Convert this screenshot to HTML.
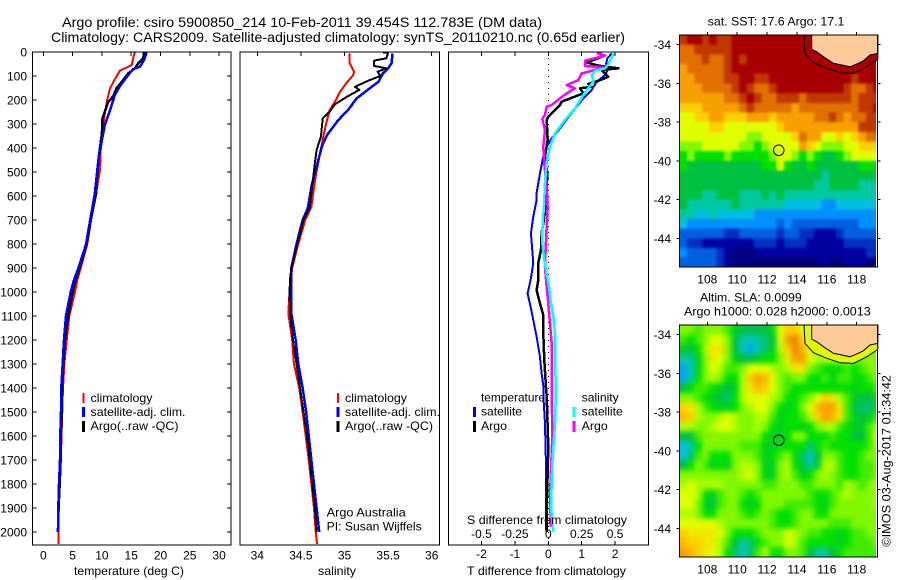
<!DOCTYPE html>
<html lang="en">
<head>
<meta charset="utf-8">
<title>Argo profile csiro 5900850_214</title>
<style>
html,body{margin:0;padding:0;background:#fff;width:900px;height:580px;overflow:hidden}
svg{display:block}
text{font-family:"Liberation Sans",Arial,sans-serif;font-size:12px;fill:#000}
.t{font-size:14px}
</style>
</head>
<body>
<svg id="chart" xmlns="http://www.w3.org/2000/svg" width="900" height="580" viewBox="0 0 900 580">
<defs>
<filter id="blurSst" x="-5%" y="-5%" width="110%" height="110%" color-interpolation-filters="sRGB"><feGaussianBlur stdDeviation="1.4"/></filter>
<filter id="blurSla" x="-5%" y="-5%" width="110%" height="110%" color-interpolation-filters="sRGB"><feGaussianBlur stdDeviation="2.6"/></filter>
<clipPath id="clipSst"><rect x="679.5" y="35" width="196.5" height="232"/></clipPath>
<clipPath id="clipSla"><rect x="679.5" y="325" width="196.5" height="232"/></clipPath>
</defs>
<rect x="0" y="0" width="900" height="580" fill="#fff"/>
<text class="t" x="62" y="27" textLength="480" lengthAdjust="spacingAndGlyphs">Argo profile: csiro 5900850_214 10-Feb-2011 39.454S 112.783E (DM data)</text>
<text class="t" x="51" y="42" textLength="574" lengthAdjust="spacingAndGlyphs">Climatology: CARS2009. Satellite-adjusted climatology: synTS_20110210.nc (0.65d earlier)</text>

<g id="marks"></g>

<g>
<text x="74" y="575" textLength="110" lengthAdjust="spacingAndGlyphs">temperature (deg C)</text>
<g>
<rect x="82.5" y="393" width="2" height="10" fill="#f00"/>
<rect x="82" y="407" width="3" height="10" fill="#00f"/>
<rect x="82" y="421" width="3" height="11" fill="#000"/>
<text x="90.5" y="402" textLength="62" lengthAdjust="spacingAndGlyphs">climatology</text>
<text x="90.5" y="416" textLength="95" lengthAdjust="spacingAndGlyphs">satellite-adj. clim.</text>
<text x="90.5" y="430" textLength="88" lengthAdjust="spacingAndGlyphs">Argo(..raw -QC)</text>
</g>
</g>

<g>
<text x="318" y="575" textLength="38" lengthAdjust="spacingAndGlyphs">salinity</text>
<g>
<rect x="337" y="393" width="2" height="10" fill="#f00"/>
<rect x="336.5" y="407" width="3" height="10" fill="#00f"/>
<rect x="336.5" y="421" width="3" height="11" fill="#000"/>
<text x="345" y="402" textLength="62" lengthAdjust="spacingAndGlyphs">climatology</text>
<text x="345" y="416" textLength="95" lengthAdjust="spacingAndGlyphs">satellite-adj. clim.</text>
<text x="345" y="430" textLength="88" lengthAdjust="spacingAndGlyphs">Argo(..raw -QC)</text>
</g>
<text x="326.7" y="516.5" textLength="79" lengthAdjust="spacingAndGlyphs">Argo Australia</text>
<text x="326.7" y="530.5" textLength="95" lengthAdjust="spacingAndGlyphs">PI: Susan Wijffels</text>
</g>

<g>
<g>
<text x="481" y="401.5" textLength="64" lengthAdjust="spacingAndGlyphs">temperature</text>
<text x="481" y="415.5" textLength="41" lengthAdjust="spacingAndGlyphs">satellite</text>
<text x="481" y="430" textLength="26" lengthAdjust="spacingAndGlyphs">Argo</text>
<text x="581.7" y="401.5" textLength="37" lengthAdjust="spacingAndGlyphs">salinity</text>
<text x="581.7" y="415.5" textLength="41" lengthAdjust="spacingAndGlyphs">satellite</text>
<text x="581.7" y="430" textLength="26" lengthAdjust="spacingAndGlyphs">Argo</text>
<rect x="473" y="407" width="3" height="10" fill="#00f"/>
<rect x="473" y="421" width="3" height="11" fill="#000"/>
<rect x="572.5" y="407" width="3" height="10" fill="#0ff"/>
<rect x="572.5" y="421" width="3" height="11" fill="#f0f"/>
</g>
<text x="467" y="524" textLength="160" lengthAdjust="spacingAndGlyphs">S difference from climatology</text>
<text x="467" y="575" textLength="159" lengthAdjust="spacingAndGlyphs">T difference from climatology</text>
</g>

<g>
<text x="707.7" y="25.5" textLength="136.7" lengthAdjust="spacingAndGlyphs">sat. SST: 17.6 Argo: 17.1</text>
<text x="700" y="301.5" textLength="101.7" lengthAdjust="spacingAndGlyphs">Altim. SLA: 0.0099</text>
<text x="684" y="315.5" textLength="186.7" lengthAdjust="spacingAndGlyphs">Argo h1000: 0.028 h2000: 0.0013</text>
<text transform="translate(890.7,546.7) rotate(-90)" textLength="171.7" lengthAdjust="spacingAndGlyphs">©IMOS 03-Aug-2017 01:34:42</text>
</g>
</svg>

<script>
// ---- profile data: temperature (deg C) vs depth (m)
const depthTicks = [0,100,200,300,400,500,600,700,800,900,1000,1100,1200,1300,1400,1500,1600,1700,1800,1900,2000];
const tempTicks = [0,5,10,15,20,25,30];
const salTicks = [34,34.5,35,35.5,36];
const salTickLabels = ['34','34.5','35','35.5','36'];
const tDiffTicks = [-2,-1,0,1,2];
const tDiffLabels = ['-2','-1','0','1','2'];
const sDiffTicks = [-0.5,-0.25,0,0.25,0.5];
const sDiffLabels = ['-0.5','-0.25','0','0.25','0.5'];
const lonTicks = [108,110,112,114,116,118];
const latTicks = [-34,-36,-38,-40,-42,-44];

const tClimDepth = [0,19,54,65,77,114,151,199,255,300,353,408,492,617,700,800,900,950,1000,1100,1200,1300,1400,1500,1600,1700,1800,1900,2000,2050];
const tClim = [15.65,15.4,15.1,14.2,13.1,12.2,11.4,10.9,10.5,10.25,10,9.8,9.67,8.8,8.15,7.5,6.4,5.8,5.4,4.44,4.0,3.59,3.36,3.24,3.1,3.0,2.8,2.65,2.56,2.56];
const tSatDepth = [0,33,61,72,105,141,179,242,304,367,450,589,700,800,900,950,1000,1100,1200,1300,1400,1500,1600,1700,1800,1900,2000];
const tSat = [17.64,17.2,16.5,15.3,14.2,13.1,12.2,11.4,10.5,10,9.4,8.8,8.0,7.3,6.0,5.24,4.67,3.87,3.53,3.3,3.07,3.02,2.9,2.85,2.68,2.56,2.5];
const tArgoDepth = [0,26,47,68,89,124,151,186,207,248,277,340,450,590,700,800,900,950,1000,1100,1200,1300,1400,1500,1600,1700,1800,1900,2000];
const tArgo = [17.2,17.07,16.2,15.65,14.5,13.4,12.5,11.9,11.1,10.5,10.1,10,9.4,9,8.1,7.4,6.2,5.5,5.0,4.27,3.7,3.4,3.2,3.16,3,2.95,2.8,2.6,2.5];

// ---- salinity vs depth
const sClimDepth = [6,47,82,96,130,165,207,242,297,346,422,478,540,645,700,800,900,1000,1089,1200,1300,1400,1500,1600,1700,1800,1900,2000,2050];
const sClim = [35.06,35.06,35.11,35.1,35.02,34.95,34.89,34.83,34.79,34.76,34.72,34.69,34.66,34.62,34.55,34.47,34.4,34.37,34.355,34.4,34.42,34.48,34.52,34.555,34.59,34.62,34.65,34.67,34.685];
const sSatDepth = [6,47,68,89,124,151,193,242,283,346,394,464,561,650,700,800,900,950,1000,1089,1200,1300,1400,1500,1600,1700,1800,1900,2000];
const sSat = [35.55,35.54,35.5,35.44,35.39,35.29,35.14,35.04,34.93,34.8,34.74,34.69,34.62,34.58,34.52,34.45,34.39,34.39,34.39,34.39,34.44,34.47,34.52,34.56,34.59,34.62,34.65,34.68,34.71];
const sArgoDepth = [3,3,26,36,58,68,82,100,120,145,158,186,218,249,276,353,408,464,588,650,700,800,900,950,1000,1089,1200,1300,1400,1500,1600,1700,1800,1900,2000];
const sArgo = [35.44,35.5,35.48,35.34,35.34,35.48,35.38,35.41,35.27,35.12,35.17,35.03,34.89,34.83,34.75,34.73,34.68,34.66,34.62,34.6,34.53,34.46,34.39,34.375,34.37,34.375,34.41,34.45,34.49,34.53,34.57,34.6,34.63,34.66,34.68];

// ---- difference from climatology
const dtSatDepth = [6,26,50,68,96,124,158,193,228,272,318,360,394,436,505,588,617,686,755,825,880,943,1006,1068,1117,1186,1270,1339,1400,1450,1547,1714,1992];
const dtSat = [1.9,1.77,1.73,1.8,1.7,1.45,1.3,1.05,0.85,0.6,0.35,0.1,-0.05,-0.15,-0.25,-0.35,-0.35,-0.45,-0.52,-0.48,-0.45,-0.52,-0.62,-0.52,-0.45,-0.35,-0.25,-0.2,-0.14,-0.14,-0.1,-0.07,-0.07];
const dtArgoDepth = [4,20,44,58,68,75,103,120,133,145,151,172,207,221,242,269,283,367,436,505,645,755,825,880,950,992,1047,1096,1172,1283,1396,1430,1645,1921,2000];
const dtArgo = [1.55,1.6,1.15,1.55,2.1,1.6,1.8,1.5,1.2,1.3,0.95,1.05,0.4,0.35,0.2,0,-0.05,-0.02,-0.1,-0.03,-0.07,-0.2,-0.22,-0.3,-0.3,-0.35,-0.25,-0.15,-0.15,-0.12,-0.07,-0.05,0,-0.05,-0.05];
const dsSatDepth = [6,50,68,78,96,124,158,200,235,283,339,394,464,547,650,714,797,867,922,978,1047,1104,1172,1396,1450,1547,1714,1896,2000];
const dsSat = [0.488,0.45,0.425,0.35,0.325,0.338,0.288,0.238,0.2,0.125,0.05,0.013,-0.013,-0.025,-0.033,-0.043,-0.045,-0.03,-0.013,0.005,0.02,0.038,0.05,0.055,0.055,0.05,0.03,0.02,0.038];
const dsArgoDepth = [4,15,36,58,64,82,89,117,138,151,172,193,221,228,262,279,325,394,464,561,650,729,825,896,978,1047,1130,1213,1396,1604,1854,1979];
const dsArgo = [0.3625,0.425,0.275,0.275,0.4125,0.3,0.25,0.225,0.1375,0.2,0.1375,0.0875,0.025,-0.0125,-0.025,-0.045,-0.025,-0.0375,-0.03,-0.0125,-0.005,-0.0125,-0.02,-0.025,-0.0125,0,0.0125,0.025,0.025,0.03,0.0125,0.02];

// ---- SST map cells (colour level), rows north to south, columns west to east
const sstCells = [
[14,15,15,14,15,14,14,15,15,15,15,15,15,15,15,15,15,15,15,15,15,15,15,15,15,15,15],
[13,13,14,14,14,14,14,15,15,15,15,15,15,15,15,15,15,15,15,15,15,15,15,15,15,15,15],
[13,13,13,14,13,13,14,15,14,15,15,15,15,15,15,15,15,15,15,15,15,15,15,15,15,15,15],
[12,13,13,13,13,13,14,15,15,15,15,15,15,15,15,15,15,15,15,15,15,15,15,15,15,15,15],
[12,12,13,13,13,13,14,14,15,15,14,14,15,15,15,15,15,15,15,15,15,15,15,14,15,15,15],
[12,12,12,13,13,13,13,14,15,14,13,13,14,15,15,15,15,15,15,15,15,15,14,13,13,14,15],
[12,12,12,12,12,12,13,13,14,15,14,13,13,14,14,14,13,14,14,14,14,14,14,13,14,14,14],
[11,11,11,12,12,12,12,12,13,14,13,13,13,13,13,12,13,13,13,13,13,13,13,13,14,14,15],
[10,10,11,11,12,12,11,11,11,12,12,12,11,12,12,12,12,12,13,13,14,13,12,13,13,14,14],
[10,10,10,10,11,11,10,10,10,10,10,10,10,11,12,12,12,12,12,12,12,12,12,12,14,14,14],
[10,10,10,10,10,10,10,10,10,9,9,10,10,10,10,11,13,12,12,10,10,11,10,11,12,13,13],
[9,9,9,10,10,10,10,10,9,9,8,9,10,10,10,10,12,11,10,9,9,9,10,10,11,11,11],
[8,9,8,8,8,8,9,8,8,8,8,8,9,10,10,9,8,9,8,7,7,8,9,10,10,10,10],
[8,7,7,7,7,7,7,7,7,7,7,8,8,10,8,7,7,8,7,7,7,7,7,7,8,8,8],
[7,7,7,7,7,7,7,7,7,7,7,7,7,7,7,7,7,7,7,6,7,7,7,7,7,7,7],
[7,7,7,7,7,7,7,7,7,7,7,7,7,7,7,7,7,7,6,6,7,7,7,7,6,6,6],
[7,7,7,6,6,7,7,7,6,6,6,7,6,7,6,6,6,6,6,6,6,6,6,6,6,6,6],
[7,6,6,6,6,6,6,7,6,6,6,6,6,6,5,5,5,5,5,4,4,5,5,5,5,5,5],
[6,6,5,5,6,5,5,5,5,5,4,4,4,4,4,4,4,4,4,4,4,4,4,4,4,4,4],
[5,4,4,4,4,4,4,4,4,4,4,4,4,3,4,3,3,3,3,3,3,3,3,3,4,4,4],
[3,3,3,3,3,3,2,2,3,3,3,3,3,2,3,3,2,2,1,1,1,2,3,3,3,3,3],
[3,2,2,1,1,1,1,1,1,1,2,2,2,1,2,2,2,1,1,1,1,1,2,2,2,2,2],
[4,3,3,3,3,2,1,0,0,0,1,1,1,1,1,1,1,1,1,1,1,1,1,1,1,2,2],
[3,3,3,3,3,2,1,0,0,0,0,0,0,0,0,0,0,0,0,1,0,0,1,1,1,0,1]
];

// ---- SLA map cells (colour level)
const slaCells = [
[9,9,8.5,9,9,9,8.5,7.5,7,7,7,7,8,10,11,11,10,9,10,10,9,9,9,9,9,9,9],
[8.5,8,8.5,9,10,10,9,7,6,5.5,6,6.5,7,10,12,12.5,11,10,9,9,9,9,9,9,9,9,9],
[7.5,7,8,9.5,10.5,10.5,9,7,5.5,4.5,5.5,6.5,7.5,9.5,11,12.5,11.5,10,9.5,9,9,9,9,9,9,9,9],
[6,6,7.5,9,10.5,10,9,7.5,7,7,7.5,8,8,9,10.5,12,12,10,9.5,9.5,9.5,9.5,9.5,9,9,9,9],
[4.5,5.5,7.5,9,10,9.5,8.5,8.5,9,10,10,10,9.5,9,9.5,10.5,10.5,9,8.5,8,8,8,8.5,8,8.5,9,9],
[4.5,6,8,9,9.5,9,8,8,9.5,11,12,11.5,10,9,8.5,9,9,8,8,8.5,7.5,8.5,8.5,8,8,8.5,9],
[7,8,8.5,8.5,8,7.5,7,7.5,9.5,10.5,11.5,11,10,9,8.5,8,8,8,8,8,8,8,8,7.5,8,8,8.5],
[9,9,8.5,8,7.5,7,6.5,8,9.5,10,10,10,9.5,9,8,8,8.5,9,10,11,10.5,9.5,8.5,7.5,7,7,8],
[11,10.5,9.5,8.5,8,7.5,7.5,8,9,9.5,10,10,9,8,7.5,8,9,10,11.5,12,12,10.5,8.5,7,6.5,6.5,7.5],
[11.5,11,9.5,9,9,9.5,10,9.5,9,9,9.5,9.5,8.5,7.5,8,8,8.5,9.5,11,12,11.5,10.5,8.5,7.5,7,7.5,8.5],
[9.5,9.5,9,9,9.5,10,10,9.5,9,9,9.5,9,8,7.5,8,8,7.5,8,9,9.5,9.5,8.5,8,7.5,7.5,8.5,9.5],
[7,7,8.5,9,9,9,9,9,9,9,9,8,7.5,7.5,8,9,9,8,8,8,8.5,8,8,7,7,8.5,10],
[5,6,8,9,9,9,9,9,8.5,8.5,8.5,7.5,7.5,8,8,8,8,6.5,8,8.5,8,8,8,8,8,8.5,9.5],
[5,6.5,8.5,9,8,8,8,9,9,9,8.5,7.5,8,8.5,9,8,6.5,5.5,7,9,9,8.5,8,8,8.5,9,9],
[7,8,9,8.5,7.5,8,7.5,9,9.5,9.5,9,7.5,7.5,9,9.5,8,7,6,7.5,9.5,9.5,8.5,8,8,8.5,8.5,9],
[9,9,9,9,9,9,9,9,9.5,10,9,7.5,7.5,9,9.5,8.5,7.5,8,9,9.5,9,8.5,8,8,8.5,8.5,9],
[9.5,10,9.5,9.5,9.5,9.5,9,9,9,9,9,8.5,8.5,9,9,9,8.5,8.5,9,9,9,8.5,9.5,9,8.5,9,9.5],
[10,10,9.5,8,7.5,8.5,9,9,8.5,8,8.5,9,9,9,9,9,9,8.5,8,8,8.5,9,9.5,9,9,9,9.5],
[10,10,9,7.5,7,8.5,9,9,8,7.5,8,9,9,9,8.5,8.5,8.5,8.5,8,7.5,8.5,9,9,9,9,9,9.5],
[9.5,9.5,9,8,8,9,9,9,8.5,8,8.5,9,8.5,8,8,8.5,9,9,8,8,9,9,9,9,9,9,9],
[10,10,10,10,10,9.5,9,9,9,9,9,9,8.5,8,8,8.5,9,9,9,9,8.5,8.5,8.5,9,9,9,9],
[11,10.5,10.5,10.5,10.5,10,9,8,8,8,8.5,9,9,9,10,9.5,9,8.5,8.5,8,8,7.5,8,8.5,8.5,9,9],
[11.5,11,11,10.5,10.5,9.5,8.5,7,6,6.5,8,8.5,9,9,10,9.5,8.5,8,8,8,8,7.5,8,8.5,8.5,8.5,9],
[12,11.5,11,10.5,10,9.5,8,6.5,5.5,6.5,8.5,9.5,8,8,9,9,8.5,7,6,6,7,8,8.5,8.5,8.5,8.5,8.5]
];

// ---- geography and profile location
const coastLon = [114.99,114.99,115.32,115.77,116.44,117.0,117.55,118.11,118.45,118.89,119.41,119.41];
const coastLat = [-33.5,-34.24,-34.36,-34.62,-34.96,-35.05,-35.14,-34.96,-34.83,-34.53,-34.45,-33.5];
const shelfLon = [114.47,114.54,115.1,116.0,116.88,117.78,118.67,119.41,119.41];
const shelfLat = [-33.5,-34.45,-34.93,-35.22,-35.45,-35.48,-35.14,-34.76,-33.5];
const profileLon = 112.783;
const profileLat = -39.454;

const colourStops = ['#000080','#0000a0','#0030c0','#0060e0','#0090ff','#00c0e0','#00c8a0','#00c040','#00e000','#80f800','#e0ff00','#ffd000','#f8a000','#e07000','#c03800','#a80000'];

// ---- axis functions
const NS = 'http://www.w3.org/2000/svg';
const root = document.getElementById('marks');
const yDepth = d => 52 + d * 0.24;
const xTemp = v => 43.3 + v * 5.86;
const xSal = v => 257.3 + (v - 34) * 87.2;
const xDT = v => 548.3 + v * 33.4;
const xDS = v => 548.3 + v * 133.6;
const xLon = v => 707.3 + (v - 108) * 14.94;
const yLat = (v, top) => top + 9.7 + (-34 - v) * 19.36;

function make(tag, attrs, parent) {
  const el = document.createElementNS(NS, tag);
  for (const k in attrs) el.setAttribute(k, attrs[k]);
  (parent || root).appendChild(el);
  return el;
}
function hex(c) { return [1,3,5].map(i => parseInt(c.substr(i,2),16)); }
function colourOf(level) {
  const a = Math.max(0, Math.min(15, level));
  const i = Math.min(14, Math.floor(a));
  const f = a - i;
  const p = hex(colourStops[i]), q = hex(colourStops[i+1]);
  return 'rgb(' + p.map((c,j) => Math.round(c + (q[j]-c)*f)).join(',') + ')';
}
function line(x1, y1, x2, y2, name) {
  const el = make('line', {x1:x1, y1:y1, x2:x2, y2:y2, stroke:'#000', 'stroke-width':1, 'shape-rendering':'crispEdges'});
  
  
  return el;
}
function label(x, y, str, anchor, name) {
  const el = make('text', {x:x, y:y, 'text-anchor':anchor});
  el.textContent = str;
  
  
  return el;
}
function frame(x, y, w, h, name) {
  const el = make('rect', {x:x, y:y, width:w, height:h, fill:'none', stroke:'#000', 'stroke-width':1, 'shape-rendering':'crispEdges'});
  
  
}
function series(depths, values, xf, colour, width, name) {
  const pts = depths.map((d,i) => xf(values[i]).toFixed(2) + ',' + yDepth(d).toFixed(2)).join(' ');
  const el = make('polyline', {points:pts, fill:'none', stroke:colour, 'stroke-width':width, 'stroke-linejoin':'round', 'shape-rendering':'crispEdges'});
  
  
}

const PT = 52, PB = 545;

// ---- temperature panel
series(tClimDepth, tClim, xTemp, '#f00', 2, 'temperature-climatology-line');
series(tArgoDepth, tArgo, xTemp, '#000', 2.5, 'temperature-argo-line');
series(tSatDepth, tSat, xTemp, '#00f', 2.5, 'temperature-satellite-line');
frame(32.5, PT, 198.5, PB - PT, 'temperature-panel-frame');
depthTicks.forEach(d => {
  line(32.5, yDepth(d), 36.5, yDepth(d), 'depth-tick-left');
  line(231, yDepth(d), 227, yDepth(d), 'depth-tick-right');
  label(27, yDepth(d) + 4.5, String(d), 'end', 'depth-tick-label');
});
tempTicks.forEach(v => {
  line(xTemp(v), PT, xTemp(v), PT + 4, 'temperature-tick');
  label(xTemp(v), 559.5, String(v), 'middle', 'temperature-tick-label');
});

// ---- salinity panel
series(sClimDepth, sClim, xSal, '#f00', 2, 'salinity-climatology-line');
series(sSatDepth, sSat, xSal, '#00f', 2.5, 'salinity-satellite-line');
series(sArgoDepth, sArgo, xSal, '#000', 2, 'salinity-argo-line');
frame(240, PT, 199.5, PB - PT, 'salinity-panel-frame');
salTicks.forEach((v,i) => {
  line(xSal(v), PT, xSal(v), PT + 4, 'salinity-tick');
  label(xSal(v), 559.5, salTickLabels[i], 'middle', 'salinity-tick-label');
});

// ---- difference panel
const zero = make('line', {x1:xDT(0), y1:PT, x2:xDT(0), y2:PB, stroke:'#000', 'stroke-width':1, 'stroke-dasharray':'1 5', 'shape-rendering':'crispEdges'});


series(dtSatDepth, dtSat, xDT, '#00f', 2, 't-difference-satellite-line');
series(dtArgoDepth, dtArgo, xDT, '#000', 2.5, 't-difference-argo-line');
series(dsArgoDepth, dsArgo, xDS, '#f0f', 2.5, 's-difference-argo-line');
series(dsSatDepth, dsSat, xDS, '#0ff', 2.5, 's-difference-satellite-line');
frame(448.5, PT, 200, PB - PT, 'difference-panel-frame');
tDiffTicks.forEach((v,i) => {
  line(xDT(v), PT, xDT(v), PT + 4, 't-difference-tick-top');
  line(xDT(v), PB, xDT(v), PB - 4, 't-difference-tick-bottom');
  label(xDT(v), 558, tDiffLabels[i], 'middle', 't-difference-tick-label');
});
sDiffTicks.forEach((v,i) => {
  label(xDS(v), 538, sDiffLabels[i], 'middle', 's-difference-tick-label');
});

// ---- maps
function drawMap(cells, top, name, shelfFill, clipId, blurId) {
  const mapLeft = 679.5, mapW = 197.8, mapH = 232;
  const cellW = 0.5, cellH = 0.5, lon0 = 106.13, lat0 = -33.5;
  const clipGroup = make('g', {'clip-path':'url(#' + clipId + ')'});
  
  
  const blurGroup = make('g', {filter:'url(#' + blurId + ')'}, clipGroup);
  
  
  cells.forEach((row, r) => {
    row.forEach((val, c) => {
      let x0 = xLon(lon0 + c * cellW), x1 = xLon(lon0 + (c+1) * cellW);
      let y0 = yLat(lat0 - r * cellH, top), y1 = yLat(lat0 - (r+1) * cellH, top);
      if (c === 0) x0 -= 9;
      if (c === row.length - 1) x1 += 9;
      if (r === 0) y0 -= 9;
      if (r === cells.length - 1) y1 += 9;
      const el = make('rect', {x:x0.toFixed(2), y:y0.toFixed(2), width:(x1-x0+0.4).toFixed(2), height:(y1-y0+0.4).toFixed(2), fill:colourOf(val), 'shape-rendering':'crispEdges'}, blurGroup);
      
      
    });
  });
  const shelfPts = shelfLon.map((v,i) => xLon(v).toFixed(1) + ',' + yLat(shelfLat[i], top).toFixed(1)).join(' ');
  const shelf = make('polygon', {points:shelfPts, fill:shelfFill, stroke:'#000', 'stroke-width':1});
  
  
  const coastPts = coastLon.map((v,i) => xLon(v).toFixed(1) + ',' + yLat(coastLat[i], top).toFixed(1)).join(' ');
  const land = make('polygon', {points:coastPts, fill:'#ffcc99', stroke:'#000', 'stroke-width':1});
  
  
  const marker = make('circle', {cx:xLon(profileLon), cy:yLat(profileLat, top), r:5.3, fill:'none', stroke:'#000', 'stroke-width':1});
  
  
  frame(mapLeft, top, mapW, mapH, name + '-frame');
  lonTicks.forEach(v => {
    line(xLon(v), top, xLon(v), top - 3, name + '-lon-tick');
    label(xLon(v), top + 248.3, String(v), 'middle', name + '-lon-label');
  });
  latTicks.forEach(v => {
    line(mapLeft, yLat(v, top), mapLeft - 3, yLat(v, top), name + '-lat-tick');
    line(mapLeft + mapW, yLat(v, top), mapLeft + mapW + 3, yLat(v, top), name + '-lat-tick-right');
    label(671, yLat(v, top) + 4.5, String(v), 'end', name + '-lat-label');
  });
}
drawMap(sstCells, 35, 'sst-map', '#a80000', 'clipSst', 'blurSst');
drawMap(slaCells, 325, 'sla-map', '#e0f800', 'clipSla', 'blurSla');
</script>
</body>
</html>
